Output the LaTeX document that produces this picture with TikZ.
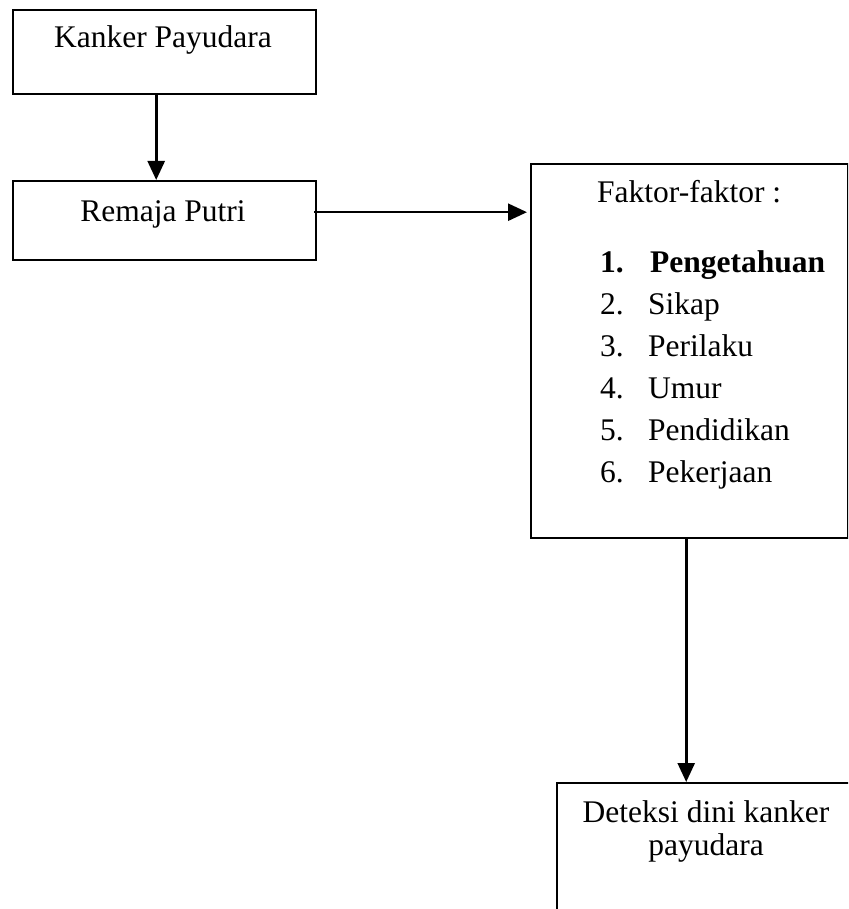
\documentclass[tikz,border=0pt]{standalone}
\usepackage{fontspec}
\setmainfont{Liberation Serif}
\usetikzlibrary{arrows.meta,calc}
\tikzset{
  box/.style={draw=black, line width=2.4pt, rectangle, inner sep=0pt, anchor=north west},
  txt/.style={inner sep=0pt, anchor=base, font=\fontsize{31.5}{42}\selectfont},
  txtl/.style={inner sep=0pt, anchor=base west, font=\fontsize{31.5}{42}\selectfont},
  conn/.style={line width=2.6pt, -{Triangle[length=19pt,width=17pt]}}
}
\begin{document}
\begin{tikzpicture}[x=1pt,y=-1pt]
\useasboundingbox (0,0) rectangle (848,909);
\clip (0,0) rectangle (848,909);
% boxes
\node[box, minimum width=303pt, minimum height=84pt] (kp) at (12,9) {};
\node[box, minimum width=303pt, minimum height=79pt] (rp) at (12,180) {};
\node[box, minimum width=317pt, minimum height=374pt] (fk) at (530,163) {};
\node[box, minimum width=310pt, minimum height=180pt] (dd) at (556,782) {};
% texts
\node[txt] (kpt) at (163,48) {Kanker Payudara};
\node[txt] (rpt) at (163,222) {Remaja Putri};
\node[txtl] (fkt) at (597,203) {Faktor-faktor :};
\node[txtl] (n1) at (600,272) {\bfseries 1.};
\node[txtl] (i1) at (650,272) {\bfseries Pengetahuan};
\node[txtl] (n2) at (600,314) {2.};
\node[txtl] (i2) at (648,314) {Sikap};
\node[txtl] (n3) at (600,356) {3.};
\node[txtl] (i3) at (648,356) {Perilaku};
\node[txtl] (n4) at (600,398) {4.};
\node[txtl] (i4) at (648,398) {Umur};
\node[txtl] (n5) at (600,440) {5.};
\node[txtl] (i5) at (648,440) {Pendidikan};
\node[txtl] (n6) at (600,482) {6.};
\node[txtl] (i6) at (648,482) {Pekerjaan};
\node[txt] (ddt1) at (706,822) {Deteksi dini kanker};
\node[txt] (ddt2) at (706,855) {payudara};
% connectors
\draw[conn] ([xshift=-8.5pt]kp.south) -- ([xshift=-8.5pt]kp.south |- rp.north);
\draw[conn] ([xshift=-3pt,yshift=8.5pt]rp.east) -- ([xshift=-3pt,yshift=8.5pt]rp.east -| fk.west);
\draw[conn] ([xshift=-3.5pt]fk.south) -- ([xshift=-3.5pt]fk.south |- dd.north);
\end{tikzpicture}
\end{document}
